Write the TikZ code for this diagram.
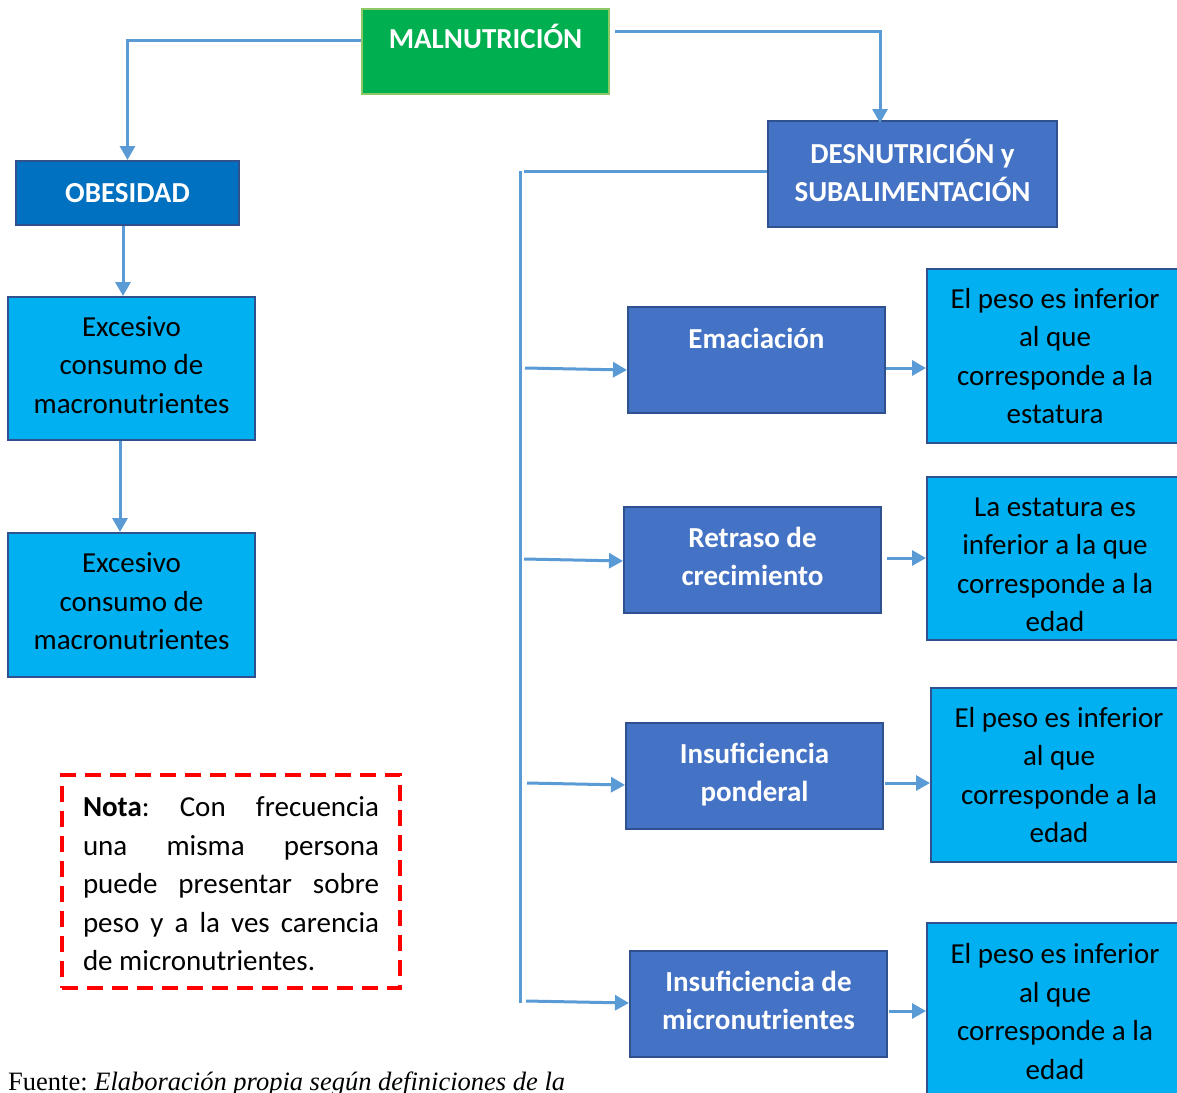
\documentclass[tikz,border=0pt]{standalone}
\usepackage{fontspec}
\setmainfont{Carlito}
\newfontfamily\timesf{Liberation Serif}
\usetikzlibrary{arrows.meta,calc}
\definecolor{arrc}{HTML}{5B9BD5}
\definecolor{grf}{HTML}{00B050}
\definecolor{grb}{HTML}{8CC864}
\definecolor{obesf}{HTML}{0070C0}
\definecolor{cyanf}{HTML}{00B0F0}
\definecolor{bluef}{HTML}{4472C4}
\definecolor{blueb}{HTML}{2F528F}
\definecolor{redd}{HTML}{FF0000}
\frenchspacing
\begin{document}
\begin{tikzpicture}[x=1pt,y=-1pt,
  txt/.style={font=\fontsize{29}{38.5}\selectfont, align=center, inner sep=0pt},
  btxt/.style={txt, font=\fontsize{29}{38.5}\selectfont\bfseries, text=white},
  box/.style={draw, line width=2pt, inner sep=0pt, align=center},
  updepth/.style={text depth=7pt},
  darkbox/.style={box, fill=bluef, draw=blueb, btxt, updepth},
  cyanbox/.style={box, fill=cyanf, draw=blueb, txt},
  ln/.style={draw=arrc, line width=3pt},
  arr/.style={ln, -{Triangle[length=14pt,width=15pt]}},
]
\useasboundingbox (0,0) rectangle (1177,1092);
\fill[white] (0,0) rectangle (1177,1092);

% top
\node[box, fill=grf, draw=grb, minimum width=247, minimum height=85] (maln) at (485.5,51.5) {};
\node[btxt] (malnt) at (485.5,36.5) {MALNUTRICIÓN};

% left column
\node[box, fill=obesf, draw=blueb, btxt, minimum width=223, minimum height=64] (obes) at (127.5,193) {OBESIDAD};
\node[cyanbox, updepth, minimum width=247, minimum height=143] (ex1) at (131.5,368.5) {Excesivo\\consumo de\\macronutrientes};
\node[cyanbox, updepth, minimum width=247, minimum height=144] (ex2) at (131.5,605) {Excesivo\\consumo de\\macronutrientes};

% note
\node[draw=redd, line width=3.5pt, dash pattern=on 16pt off 9pt, minimum width=338, minimum height=213] (note) at (231,881.5) {};
\node[font=\fontsize{29}{38.5}\selectfont, text width=296, align=justify, inner sep=0pt] (notet) at (231,884)
 {\hyphenpenalty=10000 \frenchspacing \textbf{Nota}: Con frecuencia\linebreak una misma persona\linebreak puede presentar sobre\linebreak peso y a la ves carencia\linebreak de micronutrientes.};

% right column
\node[darkbox, minimum width=289, minimum height=106] (des) at (912.5,174) {DESNUTRICIÓN y\\SUBALIMENTACIÓN};
\node[darkbox, minimum width=257, minimum height=106] (ema) at (756.5,360) {};
\node[btxt] (emat) at (756.5,338) {Emaciación};
\node[darkbox, minimum width=257, minimum height=106] (ret) at (752.5,560) {Retraso de\\crecimiento};
\node[darkbox, minimum width=257, minimum height=106] (inp) at (754.5,776) {Insuficiencia\\ponderal};
\node[darkbox, minimum width=257, minimum height=106] (inm) at (758.5,1004) {Insuficiencia de\\micronutrientes};

\node[cyanbox, minimum width=256, minimum height=174] (r1) at (1055,356) {El peso es inferior\\al que\\corresponde a la\\estatura};
\node[cyanbox, minimum width=256, minimum height=163] (r2) at (1055,558.5) {};
\begin{scope}
\clip (927,477) rectangle (1177,634);
\node[txt] (r2t) at (1055,565) {La estatura es\\inferior a la que\\corresponde a la\\edad};
\end{scope}
\node[cyanbox, minimum width=256, minimum height=174] (r3) at (1059,775) {El peso es inferior\\al que\\corresponde a la\\edad};
\node[cyanbox, minimum width=256, minimum height=177] (r4) at (1055,1011.5) {El peso es inferior\\al que\\corresponde a la\\edad};

% source
\node[anchor=base west, inner sep=0pt, font=\timesf\fontsize{26.5}{30}\selectfont] (src) at (8,1090) {Fuente: \textit{Elaboración propia según definiciones de la}};

% connectors
\draw[arr] ([yshift=11]maln.west) -| (obes.north);
\draw[arr] ([xshift=5,yshift=20]maln.east) -| ([xshift=-32.5,yshift=-3]des.north);
\draw[arr] ($(obes.south)+(-4.5,0)$) -- ($(ex1.north)+(-8.5,0)$);
\draw[arr] ($(ex1.south)+(-11.5,0)$) -- ($(ex2.north)+(-11.5,0)$);

\coordinate (bt) at (520,171);
\coordinate (bb) at (520,1003);
\draw[ln] ($(des.west)+(0,-3)$) -- (524,171);
\draw[ln] (bt) -- (bb);

\path ($(ema.west)+(0,10)$) coordinate (a1);
\path ($(ret.west)+(0,1)$) coordinate (a2);
\path ($(inp.west)+(0,9)$) coordinate (a3);
\path ($(inm.west)+(0,-1)$) coordinate (a4);
\draw[arr] ($(bb |- a1)+(5,-2)$) -- (a1);
\draw[arr] ($(bb |- a2)+(4,-2)$) -- (a2);
\draw[arr] ($(bb |- a3)+(7,-2)$) -- (a3);
\draw[arr] ($(bb |- a4)+(6,-2)$) -- (a4);

\path ($(ema.east)+(0,8)$) coordinate (e1);
\path ($(ret.east)+(5,-2)$) coordinate (e2);
\path ($(inp.east)+(1,7)$) coordinate (e3);
\path ($(inm.east)+(1,7)$) coordinate (e4);
\draw[arr] (e1) -- (e1 -| r1.west);
\draw[arr] (e2) -- (e2 -| r2.west);
\draw[arr] (e3) -- (e3 -| r3.west);
\draw[arr] (e4) -- (e4 -| r4.west);
\end{tikzpicture}
\end{document}
